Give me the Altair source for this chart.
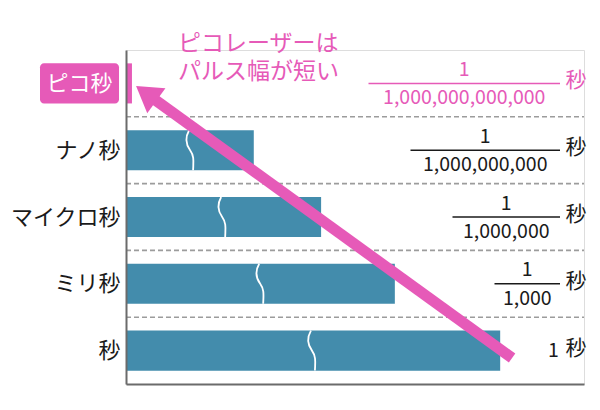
import math
import altair as alt
import pandas as pd

# ---------------- data ----------------
categories = ["ピコ秒", "ナノ秒", "マイクロ秒", "ミリ秒", "秒"]
bar_lengths = [1.3, 27.9, 42.6, 58.7, 81.7]          # relative bar length (axis = 100)
break_positions = [None, 14.0, 21.0, 29.3, 40.6]      # where the wavy "break" sits
numerators = ["1", "1", "1", "1", "1"]
denominators = ["1,000,000,000,000", "1,000,000,000", "1,000,000", "1,000", ""]
unit_label = "秒"
annotation_text = ["ピコレーザーは", "パルス幅が短い"]
arrow_from = [84.3, 4.61]   # (x, row) near the end of the 秒 bar
arrow_to = [2.2, 0.54]      # (x, row) pointing at the ピコ秒 bar

# ---------------- layout / style ----------------
WIDTH, HEIGHT = 458, 334
LEFT, TOP = 126, 50
N = len(categories)
PX = WIDTH / 100.0
PY = HEIGHT / N
FONT = "Noto Sans CJK JP"
PINK = "#e65ab8"
BLUE = "#438cac"
TEXT = "#1a1a1a"
AXIS = "#6b6b6b"

XS = alt.Scale(domain=[0, 100], nice=False, zero=False)
YS = alt.Scale(domain=[0, N], nice=False, zero=False, reverse=True)

label_expr = "[" + ",".join("'%s'" % c for c in categories) + "][floor(datum.value)]"
X_AX = alt.Axis(labels=False, ticks=False, grid=False, title=None,
                domainColor=AXIS, domainWidth=2)
Y_AX = alt.Axis(values=[i + 0.5 for i in range(N)], labelExpr=label_expr,
                ticks=False, grid=False, title=None, domainColor=AXIS, domainWidth=2,
                labelFont=FONT, labelFontSize=22, labelBaseline="middle",
                labelColor={"condition": {"test": "datum.value < 1", "value": "white"}, "value": TEXT},
                labelPadding={"condition": {"test": "datum.value < 1", "value": 14}, "value": 6},
                zindex=1)


def X(f):
    return alt.X(f, scale=XS, axis=X_AX)


def Y(f):
    return alt.Y(f, scale=YS, axis=Y_AX)


FR_RIGHT_PX = 434
den_px = [10.5 * len(d) + 13 for d in denominators]

df = pd.DataFrame({
    "cat": categories,
    "length": bar_lengths,
    "brk": break_positions,
    "num": numerators,
    "den": denominators,
    "row": list(range(N)),
})
df["zero"] = 0.0
df["top"] = df["row"] + 0.2
df["bot"] = df["row"] + 0.8
df["mid"] = df["row"] + 0.5
df["has_den"] = [1 if d else 0 for d in denominators]
df["fx0"] = [(FR_RIGHT_PX - p) / PX for p in den_px]
df["fx1"] = FR_RIGHT_PX / PX
df["fxc"] = [(FR_RIGHT_PX - p / 2) / PX for p in den_px]
df["num_y"] = [r + 0.5 - (13.5 / PY if h else 0) for r, h in zip(df["row"], df["has_den"])]
df["den_y"] = df["row"] + 0.5 + 15 / PY
df["unit_x"] = (FR_RIGHT_PX + 16) / PX
df["unit_y"] = df["row"] + 0.5 - 2 / PY
df["unit"] = unit_label

is_first = "datum.row == 0"
txt_color = alt.condition(is_first, alt.value(PINK), alt.value(TEXT))

base = alt.Chart(df)

# separators between rows
seps = alt.Chart(pd.DataFrame({"b": list(range(1, N))})).mark_rule(
    color="#9c9c9c", strokeWidth=1.6, strokeDash=[5, 3]
).encode(y=Y("b:Q"), x=alt.value(0), x2=alt.value(WIDTH))

bars = base.mark_rect().encode(
    x=X("zero:Q"), x2="length:Q", y=Y("top:Q"), y2="bot:Q",
    color=alt.condition(is_first, alt.value(PINK), alt.value(BLUE)),
)

BREAK_PATH = "M-0.05,-1 C-0.28,-0.6 -0.22,-0.3 0,0 C0.22,0.3 0.16,0.6 0.15,1"
breaks = base.transform_filter("isValid(datum.brk)").mark_point(
    shape=BREAK_PATH, filled=False, color="white", stroke="white",
    strokeWidth=1.8, opacity=1, size=1600
).encode(x=X("brk:Q"), y=Y("mid:Q"))

# pink box behind the ピコ秒 label
box = base.transform_filter(is_first).mark_rect(color=PINK, cornerRadius=4).encode(
    x=alt.value(-86), x2=alt.value(-7), y=Y("top:Q"), y2="bot:Q"
)

# arrow
tx, ty = arrow_from[0] * PX, arrow_from[1] * PY
hx, hy = arrow_to[0] * PX, arrow_to[1] * PY
dx, dy = hx - tx, hy - ty
L = math.hypot(dx, dy)
ux, uy = dx / L, dy / L
HEAD_HALF = 15.5
HEAD_LEN = 25.0
bx, by = hx - ux * (HEAD_LEN - 3), hy - uy * (HEAD_LEN - 3)
angle = math.degrees(math.atan2(dx, -dy)) % 360

arrow_df = pd.DataFrame({"x1": [arrow_from[0]], "y1": [arrow_from[1]],
                         "x2": [bx / PX], "y2": [by / PY],
                         "hx": [arrow_to[0]], "hy": [arrow_to[1]]})
arrow_line = alt.Chart(arrow_df).mark_rule(color=PINK, strokeWidth=11, strokeCap="butt").encode(
    x=X("x1:Q"), y=Y("y1:Q"), x2="x2:Q", y2="y2:Q"
)
HEAD_PATH = "M0,0 L1,%.3f L-1,%.3f Z" % (HEAD_LEN / HEAD_HALF, HEAD_LEN / HEAD_HALF)
arrow_head = alt.Chart(arrow_df).mark_point(
    shape=HEAD_PATH, filled=True, color=PINK, fill=PINK, opacity=1,
    strokeWidth=0, size=(2 * HEAD_HALF) ** 2, angle=angle
).encode(x=X("hx:Q"), y=Y("hy:Q"))

# annotation ("ピコレーザーは / パルス幅が短い"), one text mark per line
annot_df = pd.DataFrame({"t": annotation_text, "i": list(range(len(annotation_text)))})
annot_df["ax"] = 52 / PX
annot_df["ay"] = [(0.5 + 28 * i) / PY for i in range(len(annotation_text))]
annot = alt.Chart(annot_df).mark_text(
    font=FONT, fontSize=23, color=PINK, align="left", baseline="alphabetic"
).encode(x=X("ax:Q"), y=Y("ay:Q"), text="t:N")

num = base.mark_text(font=FONT, fontSize=19.5, align="center", baseline="middle").encode(
    x=X("fxc:Q"), y=Y("num_y:Q"), text="num:N", color=txt_color
)
frac_line = base.transform_filter("datum.has_den == 1").mark_rule(strokeWidth=1.5).encode(
    x=X("fx0:Q"), x2="fx1:Q", y=Y("mid:Q"), color=txt_color
)
den = base.transform_filter("datum.has_den == 1").mark_text(
    font=FONT, fontSize=19.5, align="center", baseline="middle"
).encode(x=X("fxc:Q"), y=Y("den_y:Q"), text="den:N", color=txt_color)
unit = base.mark_text(font=FONT, fontSize=21, align="center", baseline="middle").encode(
    x=X("unit_x:Q"), y=Y("unit_y:Q"), text="unit:N", color=txt_color
)

chart = alt.layer(
    seps, bars, breaks, box, arrow_line, arrow_head, annot, num, frac_line, den, unit
).properties(
    width=WIDTH, height=HEIGHT,
    autosize=alt.AutoSizeParams(type="none"),
    padding={"left": LEFT, "top": TOP, "right": 600 - LEFT - WIDTH, "bottom": 410 - TOP - HEIGHT},
    background="white",
).configure_view(stroke=None).configure(font=FONT)

chart.save("out.html", embed_options={"renderer": "svg", "actions": False})
